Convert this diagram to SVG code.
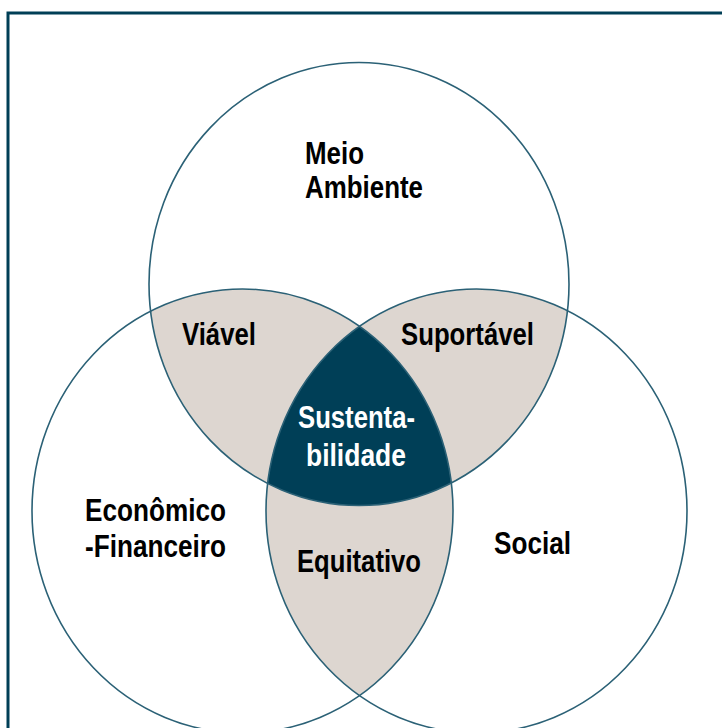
<svg xmlns="http://www.w3.org/2000/svg" width="722" height="728" viewBox="0 0 722 728">
  <style>
    .ring { fill: none; stroke: #2b6176; stroke-width: 1.6; }
    .overlap { fill: #ddd6d0; }
    .core { fill: #003f57; }
    .lbl { font-family: "Liberation Sans", Arial, sans-serif; font-weight: bold; font-size: 31px; fill: #000; }
    .lbl-w { fill: #ffffff; }
    .frame { fill: none; stroke: #003f56; stroke-width: 3; }
  </style>
  <defs>
    <ellipse id="cTop" cx="359" cy="284" rx="210" ry="221.5"/>
    <ellipse id="cLeft" cx="242.5" cy="511" rx="210.5" ry="222"/>
    <ellipse id="cRight" cx="476.5" cy="511" rx="210.5" ry="222"/>
    <clipPath id="clipTop"><use href="#cTop"/></clipPath>
    <clipPath id="clipLeft"><use href="#cLeft"/></clipPath>
    <clipPath id="clipRight"><use href="#cRight"/></clipPath>
  </defs>

  <rect x="0" y="0" width="722" height="728" fill="#ffffff"/>
  <rect class="frame" x="8" y="13" width="730" height="730"/>

  <!-- shaded pairwise overlaps and the common centre -->
  <g id="overlaps">
    <g clip-path="url(#clipTop)"><use href="#cLeft" class="overlap"/></g>
    <g clip-path="url(#clipTop)"><use href="#cRight" class="overlap"/></g>
    <g clip-path="url(#clipLeft)"><use href="#cRight" class="overlap"/></g>
    <g clip-path="url(#clipTop)"><g clip-path="url(#clipLeft)"><use href="#cRight" class="core"/></g></g>
  </g>

  <g id="meio-ambiente">
    <use href="#cTop" class="ring"/>
    <text class="lbl" x="305" y="164" textLength="59" lengthAdjust="spacingAndGlyphs">Meio</text>
    <text class="lbl" x="305" y="198" textLength="118" lengthAdjust="spacingAndGlyphs">Ambiente</text>
  </g>

  <g id="economico-financeiro">
    <use href="#cLeft" class="ring"/>
    <text class="lbl" x="85" y="521" textLength="141" lengthAdjust="spacingAndGlyphs">Econômico</text>
    <text class="lbl" x="85" y="557" textLength="141" lengthAdjust="spacingAndGlyphs">-Financeiro</text>
  </g>

  <g id="social">
    <use href="#cRight" class="ring"/>
    <text class="lbl" x="494" y="554" textLength="77" lengthAdjust="spacingAndGlyphs">Social</text>
  </g>

  <g id="viavel">
    <text class="lbl" x="182" y="345" textLength="74" lengthAdjust="spacingAndGlyphs">Viável</text>
  </g>

  <g id="suportavel">
    <text class="lbl" x="401" y="345" textLength="133" lengthAdjust="spacingAndGlyphs">Suportável</text>
  </g>

  <g id="equitativo">
    <text class="lbl" x="297" y="572" textLength="124" lengthAdjust="spacingAndGlyphs">Equitativo</text>
  </g>

  <g id="sustentabilidade">
    <text class="lbl lbl-w" x="298" y="428" textLength="117" lengthAdjust="spacingAndGlyphs">Sustenta-</text>
    <text class="lbl lbl-w" x="306" y="466" textLength="100" lengthAdjust="spacingAndGlyphs">bilidade</text>
  </g>
</svg>
